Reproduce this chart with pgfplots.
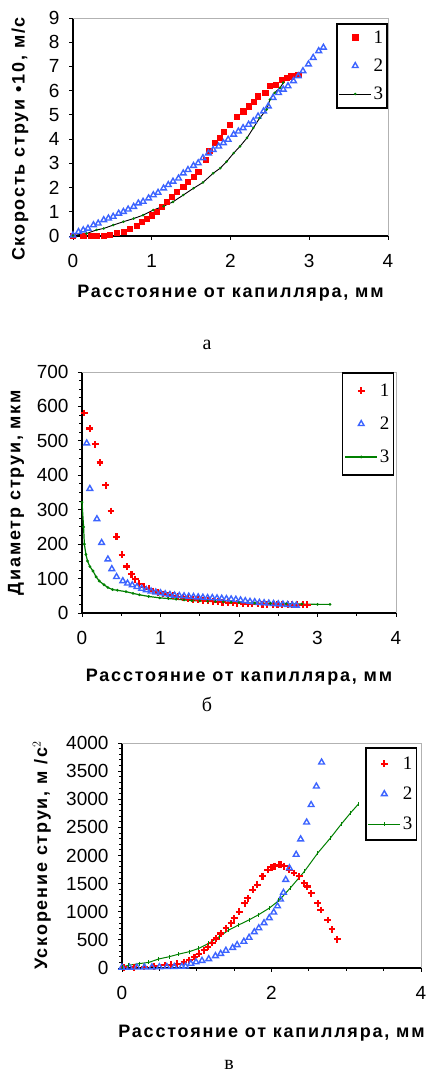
\documentclass[border=0pt]{standalone}
\usepackage{fontspec}
\setmainfont{Liberation Sans}
\newfontfamily\serifnum{Liberation Serif}
\usepackage{pgfplots}
\pgfplotsset{compat=1.18}
\definecolor{myred}{RGB}{255,0,0}
\definecolor{myblue}{RGB}{60,100,255}
\definecolor{mygreen}{RGB}{0,128,0}

\pgfplotsset{
  panel/.style={
    scale only axis, anchor=south west, clip=false,
    axis x line*=bottom, axis y line*=left,
    axis line style={-, black, line width=1.2pt},
    tick align=outside, major tick length=4pt, minor tick length=3pt,
    tick style={black, line width=0.9pt},
    /pgf/number format/assume math mode=true,
    /pgf/number format/1000 sep={},
    tick label style={font=\fontsize{19}{19}\selectfont},
    xticklabel style={yshift=-11pt},
    yticklabel style={xshift=-6pt},
    label style={font=\bfseries\fontsize{18}{18}\selectfont\addfontfeature{LetterSpace=10}},
    legend cell align=left,
    legend image code/.code={\draw[mark repeat=2,mark phase=2,##1] plot coordinates {(0pt,0pt) (16pt,0pt) (32pt,0pt)};},
  },
  redsq/.style={only marks, mark=square*, mark size=2.6pt, color=myred},
  redplus/.style={only marks, mark=+, mark size=3.4pt, color=myred, line width=2.1pt},
  bluetri/.style={only marks, mark=triangle, mark size=3.3pt, color=myblue, line width=1.4pt},
}

\begin{document}
\begin{tikzpicture}
\path[use as bounding box] (0,0) rectangle (427pt,1074pt);

% ---------- а ----------
\begin{axis}[panel,
  at={(73pt,838pt)}, width=315pt, height=218pt,
  xmin=0, xmax=4, ymin=0, ymax=9,
  xtick={0,1,2,3,4}, ytick={0,1,...,9},
  xlabel={Расстояние от капилляра, мм},
  ylabel={Скорость струи •10, м/с},
  xlabel style={at={(axis description cs:0.5,0)}, yshift=-57pt, anchor=center},
  ylabel style={at={(axis description cs:-0.168,0.445)}, anchor=center},
  legend style={at={(rel axis cs:1,0.977)}, anchor=north east, draw=black, line width=1.6pt,
    fill=white, font=\serifnum\fontsize{19}{19}\selectfont, row sep=10pt, inner xsep=2pt, inner ysep=5pt},
]
\addplot[redsq] coordinates {
(0.00,0.02) (0.13,0.00) (0.22,0.00) (0.30,0.01) (0.39,0.02) (0.47,0.06) (0.55,0.12)
(0.64,0.19) (0.72,0.30) (0.81,0.44) (0.87,0.58) (0.94,0.72) (1.00,0.86) (1.06,1.00)
(1.13,1.21) (1.19,1.41) (1.25,1.62) (1.32,1.83) (1.40,2.04) (1.46,2.25) (1.53,2.45)
(1.59,2.66) (1.68,3.14) (1.73,3.52) (1.80,3.84) (1.86,4.05) (1.91,4.32) (1.99,4.60)
(2.08,4.94) (2.16,5.15) (2.23,5.36) (2.29,5.56) (2.35,5.77) (2.44,5.91) (2.50,6.19)
(2.57,6.26) (2.65,6.46) (2.71,6.53) (2.77,6.60) (2.86,6.67)
};
\addlegendentry{1}
\addplot[bluetri] coordinates {
(0.00,0.03) (0.07,0.17) (0.13,0.24) (0.19,0.31) (0.26,0.45) (0.32,0.52) (0.39,0.66)
(0.45,0.73) (0.51,0.80) (0.58,0.93) (0.64,1.00) (0.70,1.10) (0.77,1.21) (0.83,1.35)
(0.89,1.42) (0.96,1.56) (1.02,1.69) (1.08,1.79) (1.15,1.97) (1.21,2.11) (1.27,2.25)
(1.34,2.38) (1.40,2.59) (1.46,2.73) (1.53,2.90) (1.59,3.01) (1.65,3.22) (1.72,3.42)
(1.78,3.56) (1.85,3.70) (1.91,3.84) (1.97,3.98) (2.04,4.19) (2.10,4.32) (2.16,4.46)
(2.23,4.60) (2.29,4.74) (2.35,4.94) (2.42,5.15) (2.48,5.36) (2.54,5.71) (2.61,5.91)
(2.67,6.05) (2.73,6.19) (2.80,6.40) (2.86,6.60) (2.92,6.81) (2.99,7.09) (3.05,7.36)
(3.12,7.64) (3.18,7.78)
};
\addlegendentry{2}
\addplot[black, line width=0.9pt, mark=*, mark size=0.8pt, mark options={mygreen}] coordinates {
(0.00,0.02) (0.17,0.10) (0.30,0.25) (0.39,0.31) (0.51,0.45) (0.64,0.59) (0.77,0.72)
(0.89,0.86) (1.02,1.07) (1.15,1.23) (1.27,1.41) (1.40,1.69) (1.53,1.97) (1.65,2.21)
(1.78,2.59) (1.87,2.80) (1.95,3.07) (2.04,3.42) (2.12,3.70) (2.21,4.05) (2.29,4.46)
(2.37,4.87) (2.46,5.22) (2.50,5.63) (2.56,5.91) (2.63,6.12) (2.67,6.33)
};
\addlegendentry{3}
\draw[gray!60, line width=0.9pt] (rel axis cs:0,1) -- (rel axis cs:1,1) -- (rel axis cs:1,0);
\end{axis}
\node[font=\serifnum\fontsize{20}{20}\selectfont, anchor=base] at (207pt,724pt) {а};

% ---------- б ----------
\begin{axis}[panel,
  at={(82pt,461pt)}, width=314pt, height=241pt,
  xmin=0, xmax=4, ymin=0, ymax=700,
  xtick={0,1,2,3,4}, minor x tick num=1,
  ytick={0,100,...,700}, minor y tick num=3,
  xlabel={Расстояние от капилляра, мм},
  ylabel={Диаметр  струи, мкм},
  xlabel style={at={(axis description cs:0.5,0)}, yshift=-64pt, anchor=center},
  ylabel style={at={(axis description cs:-0.210,0.5)}, anchor=center},
  legend style={at={(rel axis cs:0.994,1)}, anchor=north east, draw=black, line width=1.6pt,
    fill=white, font=\serifnum\fontsize{19}{19}\selectfont, row sep=15pt, inner xsep=2pt, inner ysep=9pt},
]
\addplot[redplus] coordinates {
(0.03,581) (0.10,536) (0.17,490) (0.23,437) (0.30,371) (0.37,296) (0.44,222)
(0.51,169) (0.57,135) (0.63,112) (0.68,98) (0.73,85) (0.79,76) (0.85,70) (0.91,64)
(0.97,59) (1.03,55) (1.10,52) (1.16,50) (1.22,47) (1.29,45) (1.35,42) (1.41,40)
(1.48,39) (1.54,37) (1.60,36) (1.67,34) (1.73,33) (1.79,31) (1.86,30) (1.92,29)
(1.98,28) (2.05,27) (2.11,27) (2.17,26) (2.24,26) (2.30,25) (2.36,25) (2.43,25)
(2.49,24) (2.55,24) (2.62,24) (2.68,24) (2.74,24) (2.81,24) (2.87,24)
};
\addlegendentry{1}
\addplot[bluetri] coordinates {
(0.06,493) (0.10,361) (0.19,273) (0.25,204) (0.33,156) (0.38,128) (0.44,105)
(0.52,93) (0.58,86) (0.64,81) (0.70,76) (0.76,71) (0.82,67) (0.88,63) (0.94,60)
(1.00,58) (1.06,55) (1.12,53) (1.18,51) (1.24,50) (1.30,49) (1.36,48) (1.42,47)
(1.48,46) (1.54,45) (1.60,44) (1.66,44) (1.72,43) (1.78,42) (1.84,41) (1.90,40)
(1.96,39) (2.02,37) (2.08,35) (2.14,33) (2.20,32) (2.26,30) (2.32,29) (2.38,28)
(2.44,27) (2.50,26) (2.56,25) (2.62,24) (2.68,23) (2.73,22)
};
\addlegendentry{2}
\addplot[mygreen, line width=1.2pt, mark=*, mark size=0.7pt] coordinates {
(0.00,322) (0.02,250) (0.03,200) (0.05,170) (0.07,151) (0.10,135) (0.14,122)
(0.18,105) (0.22,93) (0.28,82) (0.33,74) (0.39,68) (0.45,66) (0.56,62) (0.65,57)
(0.73,53) (0.85,48) (0.99,44) (1.10,42) (1.20,40) (1.30,38) (1.40,36) (1.50,35)
(1.60,34) (1.70,33) (1.80,32) (1.90,31) (2.00,30) (2.20,29) (2.40,28) (2.60,27)
(2.80,26) (3.00,25) (3.16,25)
};
\addlegendentry{3}
\draw[gray!60, line width=0.9pt] (rel axis cs:0,1) -- (rel axis cs:1,1) -- (rel axis cs:1,0);
\end{axis}
\node[font=\serifnum\fontsize{20}{20}\selectfont, anchor=base] at (207pt,362pt) {б};

% ---------- в ----------
\begin{axis}[panel,
  at={(122pt,106pt)}, width=299pt, height=225pt,
  xmin=0, xmax=4, ymin=0, ymax=4000,
  xtick={0,2,4}, minor x tick num=3,
  ytick={0,500,...,4000}, minor y tick num=4,
  xlabel={Расстояние  от капилляра, мм},
  ylabel={Ускорение струи, м /с$^{2}$},
  xlabel style={at={(axis description cs:0.5,0)}, yshift=-65pt, anchor=center},
  ylabel style={at={(axis description cs:-0.268,0.5)}, anchor=center},
  legend style={at={(rel axis cs:0.987,0.982)}, anchor=north east, draw=black, line width=1.6pt,
    fill=white, font=\serifnum\fontsize{19}{19}\selectfont, row sep=12pt, inner xsep=2pt, inner ysep=7pt},
]
\addplot[redplus] coordinates {
(0.03,10) (0.16,10) (0.30,19) (0.43,31) (0.57,49) (0.66,60) (0.74,78) (0.83,107)
(0.90,137) (0.97,197) (1.03,256) (1.10,316) (1.15,376) (1.21,447) (1.26,525)
(1.32,614) (1.39,704) (1.46,793) (1.50,883) (1.57,1002) (1.64,1151) (1.68,1240)
(1.75,1389) (1.81,1479) (1.88,1628) (1.95,1747) (2.00,1790) (2.04,1807) (2.10,1837)
(2.13,1837) (2.17,1807) (2.24,1747) (2.30,1688) (2.37,1628) (2.44,1509) (2.48,1449)
(2.53,1330) (2.62,1151) (2.66,1032) (2.75,853) (2.81,686) (2.88,510)
};
\addlegendentry{1}
\addplot[bluetri] coordinates {
(0.00,10) (0.10,10) (0.20,12) (0.30,15) (0.40,15) (0.50,18) (0.60,20) (0.70,22)
(0.80,25) (0.85,30) (0.92,79) (0.99,105) (1.07,130) (1.16,160) (1.25,215) (1.32,255)
(1.39,310) (1.48,360) (1.54,410) (1.63,470) (1.70,540) (1.77,640) (1.83,710) (1.90,800)
(1.97,890) (2.03,990) (2.08,1100) (2.12,1220) (2.16,1340) (2.19,1570) (2.24,1776)
(2.33,2016) (2.39,2290) (2.47,2590) (2.53,2900) (2.60,3230) (2.67,3656)
};
\addlegendentry{2}
\addplot[mygreen, line width=1pt, mark=|, mark size=2pt] coordinates {
(0.00,20) (0.09,48) (0.23,78) (0.36,100) (0.49,160) (0.63,200) (0.76,247) (0.90,290)
(1.03,350) (1.16,437) (1.30,556) (1.43,676) (1.56,765) (1.70,855) (1.83,950)
(1.97,1064) (2.10,1200) (2.25,1420) (2.44,1717) (2.62,2046) (2.79,2314) (2.93,2552)
(3.06,2761) (3.16,2910)
};
\addlegendentry{3}
\draw[gray!60, line width=0.9pt] (rel axis cs:0,1) -- (rel axis cs:1,1) -- (rel axis cs:1,0);
\end{axis}
\node[font=\serifnum\fontsize{20}{20}\selectfont, anchor=base] at (229pt,5pt) {в};
\end{tikzpicture}
\end{document}
